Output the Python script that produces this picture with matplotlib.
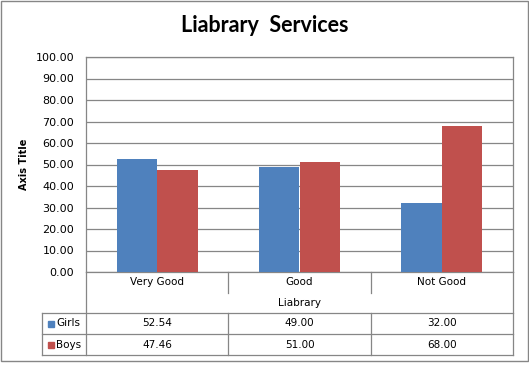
import numpy as np
import matplotlib.pyplot as plt
from matplotlib.patches import Rectangle
from matplotlib.lines import Line2D

# Data for the chart
categories = ['Very Good', 'Good', 'Not Good']
series_names = ['Girls', 'Boys']
girls = [52.54, 49.00, 32.00]
boys = [47.46, 51.00, 68.00]
series_colors = ['#4F81BD', '#C0504D']
y_ticks = [0, 10, 20, 30, 40, 50, 60, 70, 80, 90, 100]

W, H = 529, 386
GRID = '#868686'

fig = plt.figure(figsize=(W / 100, H / 100), dpi=100)


def fx(px):
    return px / W


def fy(py):
    return 1 - py / H


def hline(y, x0, x1):
    fig.add_artist(Line2D([fx(x0), fx(x1)], [fy(y), fy(y)], color=GRID, lw=0.9))


def vline(x, y0, y1):
    fig.add_artist(Line2D([fx(x), fx(x)], [fy(y0), fy(y1)], color=GRID, lw=0.9))


# Outer chart border
fig.add_artist(Rectangle((fx(1), fy(361)), fx(527), 360 / H, fill=False,
                         edgecolor=GRID, lw=1.0))

# Plot area
left, right, top, bottom = 86, 513, 57, 272
ax = fig.add_axes([fx(left), fy(bottom), fx(right - left), (bottom - top) / H])

x = np.arange(len(categories))
width = 1 / 3.5
ax.bar(x - width / 2, girls, width, color=series_colors[0], zorder=3)
ax.bar(x + width / 2, boys, width, color=series_colors[1], zorder=3)

ax.set_xlim(-0.5, len(categories) - 0.5)
ax.set_ylim(0, 100)
ax.set_yticks(y_ticks)
ax.set_yticklabels([f'{v:.2f}' for v in y_ticks], fontsize=8, family='DejaVu Sans')
ax.tick_params(axis='y', length=0, pad=8.5)
ax.set_xticks([])
ax.yaxis.grid(True, color=GRID, lw=0.9)
ax.set_axisbelow(True)
for s in ax.spines.values():
    s.set_color(GRID)
    s.set_linewidth(0.9)

ax.set_ylabel('Axis Title', fontsize=7, fontweight='bold', family='DejaVu Sans')
ax.yaxis.set_label_coords(-(left - 29) / (right - left), 0.5)

fig.text(0.5, fy(26), 'Liabrary  Services', ha='center', va='center',
         fontsize=15.5, fontweight='bold', family='Lato')

# Data table below the plot
cat_w = (right - left) / len(categories)
bounds = [left + i * cat_w for i in range(len(categories) + 1)]
row_cat, row_title, row_g, row_b = 293, 313, 334, 355
leg_left = 42

vline(left, bottom, row_b)
vline(right, bottom, row_b)
for b in bounds[1:-1]:
    vline(b, bottom, row_cat)
    vline(b, row_title, row_b)
vline(leg_left, row_title, row_b)
for yy in (row_title, row_g, row_b):
    hline(yy, leg_left, right)

tfont = dict(fontsize=7.5, family='DejaVu Sans', ha='center', va='center')
for i, c in enumerate(categories):
    fig.text(fx((bounds[i] + bounds[i + 1]) / 2), fy(282), c, **tfont)
fig.text(fx((left + right) / 2), fy(302.5), 'Liabrary', **tfont)

for r, (name, vals, col) in enumerate(zip(series_names, [girls, boys], series_colors)):
    yc = (row_title + r * 21 + row_title + (r + 1) * 21) / 2
    fig.add_artist(Rectangle((fx(47.5), fy(yc + 3)), fx(6), 6 / H, color=col))
    fig.text(fx(56), fy(yc), name, fontsize=7.5, family='DejaVu Sans', ha='left', va='center')
    for i, v in enumerate(vals):
        fig.text(fx((bounds[i] + bounds[i + 1]) / 2), fy(yc), f'{v:.2f}', **tfont)

plt.savefig('out.png', dpi=100)
plt.close()
